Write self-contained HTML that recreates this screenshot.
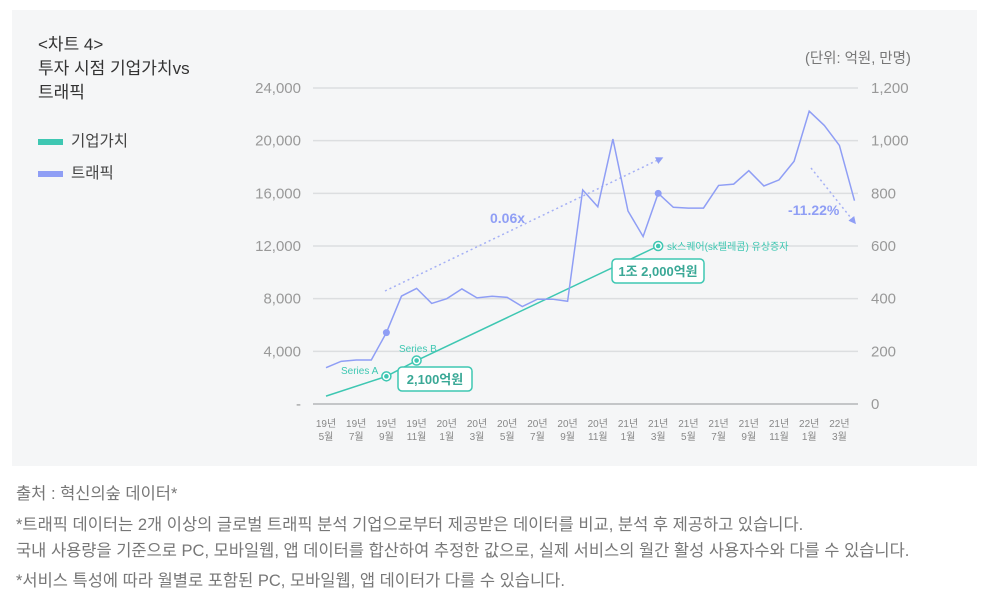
<!DOCTYPE html>
<html><head><meta charset="utf-8">
<style>
body{margin:0;width:992px;height:606px;background:#fff;font-family:"Liberation Sans","Noto Sans CJK KR",sans-serif;overflow:hidden;position:relative}
#panel{position:absolute;left:12px;top:10px;width:965px;height:456px;background:#f5f6f7}
.t{position:absolute;color:#333;font-size:17px;line-height:24px}
.note{position:absolute;left:16px;color:#777;font-size:16.5px;white-space:nowrap}
svg{position:absolute;left:0;top:0}
</style></head><body>
<div id="panel"></div>
<div class="t" style="left:38px;top:33px">&lt;차트 4&gt;<br>투자 시점 기업가치vs<br>트래픽</div>
<div style="position:absolute;left:38px;top:129px;font-size:15.5px;color:#444"><span style="display:inline-block;width:25px;height:6px;background:#3ec7b2;vertical-align:middle;margin-right:8px"></span>기업가치</div>
<div style="position:absolute;left:38px;top:161px;font-size:15.5px;color:#444"><span style="display:inline-block;width:25px;height:6px;background:#8f9ef5;vertical-align:middle;margin-right:8px"></span>트래픽</div>
<div style="position:absolute;left:805px;top:47px;font-size:14.5px;color:#777">(단위: 억원, 만명)</div>
<svg id="chart" width="992" height="606"></svg>
<div class="note" style="top:480px">출처 : 혁신의숲 데이터*</div>
<div class="note" style="top:511px">*트래픽 데이터는 2개 이상의 글로벌 트래픽 분석 기업으로부터 제공받은 데이터를 비교, 분석 후 제공하고 있습니다.</div>
<div class="note" style="top:537px">국내 사용량을 기준으로 PC, 모바일웹, 앱 데이터를 합산하여 추정한 값으로, 실제 서비스의 월간 활성 사용자수와 다를 수 있습니다.</div>
<div class="note" style="top:567px">*서비스 특성에 따라 월별로 포함된 PC, 모바일웹, 앱 데이터가 다를 수 있습니다.</div>
<script>
const xLabels=["19년|5월","19년|7월","19년|9월","19년|11월","20년|1월","20년|3월","20년|5월","20년|7월","20년|9월","20년|11월","21년|1월","21년|3월","21년|5월","21년|7월","21년|9월","21년|11월","22년|1월","22년|3월"];
const leftTicks=[0,4000,8000,12000,16000,20000,24000];
const rightTicks=[0,200,400,600,800,1000,1200];
const traffic=[138,162,167,167,271,410,439,382,400,437,403,409,405,370,398,398,390,813,749,1006,733,636,800,747,744,744,830,835,886,828,851,922,1112,1058,982,772];
const valueMonths=[0,4,6,22];
const valueValues=[600,2100,3300,12000];
const ns="http://www.w3.org/2000/svg";
const svg=document.getElementById('chart');
const X=m=>326+m*15.1;
const YL=v=>404-v*316/24000;
const YR=v=>404-v*316/1200;
function mk(tag,attrs,parent){const e=document.createElementNS(ns,tag);for(const k in attrs)e.setAttribute(k,attrs[k]);(parent||svg).appendChild(e);return e;}
leftTicks.forEach((v,i)=>{
  const g=mk('line',{x1:313,x2:858,y1:YL(v),y2:YL(v),stroke:i==0?'#c4c6c8':'#dcdee0','stroke-width':i==0?2:1.5});
  
  
  const t=mk('text',{x:301,y:YL(v)+5,'text-anchor':'end','font-size':15,fill:'#999'});
  t.textContent=v==0?'-':v.toLocaleString('en-US');
  
  
});
rightTicks.forEach(v=>{
  const t=mk('text',{x:871,y:YR(v)+5,'font-size':15,fill:'#999'});
  t.textContent=v.toLocaleString('en-US');
  
  
});
xLabels.forEach((l,i)=>{
  const p=l.split('|');
  const t=mk('text',{x:X(i*2),y:427,'text-anchor':'middle','font-size':10,fill:'#888'});
  t.textContent=p[0];
  
  
  const t2=mk('text',{x:X(i*2),y:440,'text-anchor':'middle','font-size':10,fill:'#888'});
  t2.textContent=p[1];
  
  
});
mk('defs',{}).innerHTML='<marker id="ah" markerWidth="5" markerHeight="5" refX="4" refY="2.5" orient="auto"><path d="M0,0 L5,2.5 L0,5 z" fill="#8f9ef5"/></marker>';
const a1=mk('line',{x1:385,y1:291,x2:662,y2:158,stroke:'#a5b0f5','stroke-width':1.5,'stroke-dasharray':'2,3','marker-end':'url(#ah)'});


const a2=mk('line',{x1:811,y1:168,x2:855,y2:223,stroke:'#a5b0f5','stroke-width':1.5,'stroke-dasharray':'2,3','marker-end':'url(#ah)'});


const l1=mk('text',{x:490,y:223,'font-size':14,'font-weight':'bold',fill:'#8f9ef5'});l1.textContent='0.06x';


const l2=mk('text',{x:788,y:215,'font-size':14,'font-weight':'bold',fill:'#8f9ef5'});l2.textContent='-11.22%';


const vl=mk('polyline',{points:valueMonths.map((m,i)=>X(m)+','+YL(valueValues[i])).join(' '),fill:'none',stroke:'#3ec7b2','stroke-width':1.5});


const tl=mk('polyline',{points:traffic.map((v,i)=>X(i)+','+YR(v)).join(' '),fill:'none',stroke:'#8f9ef5','stroke-width':1.5});


[4,22].forEach(i=>{const c=mk('circle',{cx:X(i),cy:YR(traffic[i]),r:3.5,fill:'#8f9ef5'});

});
[1,2,3].forEach(i=>{
  const cx=X(valueMonths[i]),cy=YL(valueValues[i]);
  const c=mk('circle',{cx,cy,r:4.5,fill:'#fff',stroke:'#3ec7b2','stroke-width':1.5});
  
  
  const c2=mk('circle',{cx,cy,r:2.3,fill:'#3ec7b2'});
  
  
});
function lbl(x,y,s,name,size,anchor){const t=mk('text',{x,y,'font-size':size||10,fill:'#3ec7b2','text-anchor':anchor||'start'});t.textContent=s;

}
lbl(341,374,'Series A','series-a-label');
lbl(399,352,'Series B','series-b-label');
lbl(667,250,'sk스퀘어(sk텔레콤) 유상증자','sk-investment-label');
function box(x,y,w,s,name){const r=mk('rect',{x,y,width:w,height:24,rx:4,fill:'#fff',stroke:'#3ec7b2','stroke-width':1.5});


const t=mk('text',{x:x+w/2,y:y+17,'font-size':13,'font-weight':'bold',fill:'#3aa896','text-anchor':'middle'});t.textContent=s;

}
box(398,367,74,'2,100억원','series-a-amount-box');
box(612,259,92,'1조 2,000억원','sk-amount-box');
</script>
</body></html>
